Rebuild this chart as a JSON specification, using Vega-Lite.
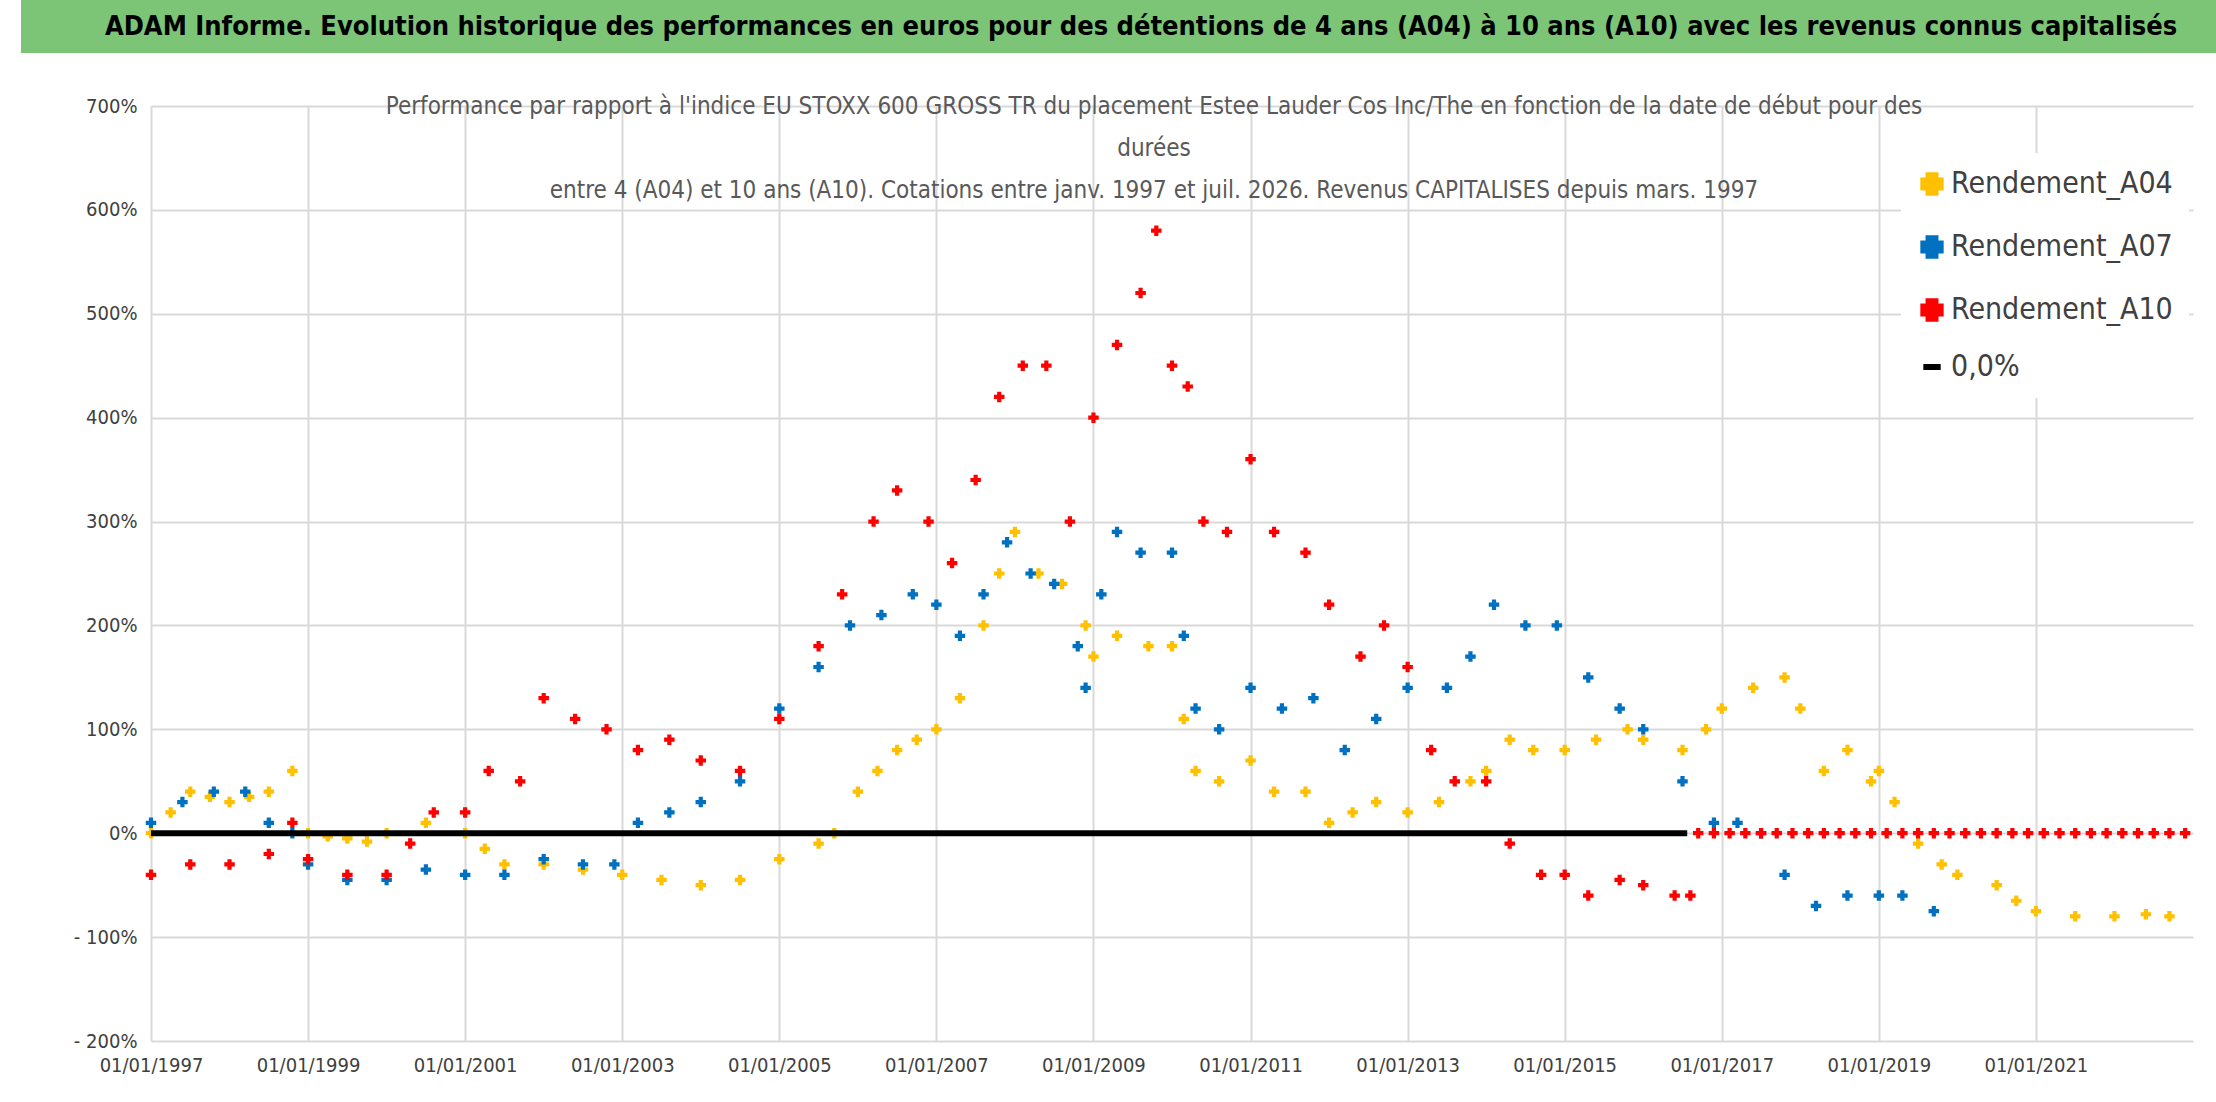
{
  "$schema": "https://vega.github.io/schema/vega-lite/v6.json",
  "background": "white",
  "padding": {"left": 21, "top": 0, "right": 0, "bottom": 0},
  "spacing": 42,
  "config": {"view": {"stroke": null}, "font": "DejaVu Sans Condensed"},
  "datasets": {
    "pts": [
      {"s":"Rendement_A04","x":1997.0,"y":0},{"s":"Rendement_A04","x":1997.25,"y":20},{"s":"Rendement_A04","x":1997.5,"y":40},{"s":"Rendement_A04","x":1997.75,"y":35},{"s":"Rendement_A04","x":1998.0,"y":30},{"s":"Rendement_A04","x":1998.25,"y":35},{"s":"Rendement_A04","x":1998.5,"y":40},{"s":"Rendement_A04","x":1998.8,"y":60},{"s":"Rendement_A04","x":1999.0,"y":0},{"s":"Rendement_A04","x":1999.25,"y":-3},{"s":"Rendement_A04","x":1999.5,"y":-5},{"s":"Rendement_A04","x":1999.75,"y":-8},{"s":"Rendement_A04","x":2000.0,"y":0},{"s":"Rendement_A04","x":2000.5,"y":10},{"s":"Rendement_A04","x":2001.0,"y":0},{"s":"Rendement_A04","x":2001.25,"y":-15},{"s":"Rendement_A04","x":2001.5,"y":-30},{"s":"Rendement_A04","x":2002.0,"y":-30},{"s":"Rendement_A04","x":2002.5,"y":-35},{"s":"Rendement_A04","x":2003.0,"y":-40},{"s":"Rendement_A04","x":2003.5,"y":-45},{"s":"Rendement_A04","x":2004.0,"y":-50},{"s":"Rendement_A04","x":2004.5,"y":-45},{"s":"Rendement_A04","x":2005.0,"y":-25},{"s":"Rendement_A04","x":2005.5,"y":-10},{"s":"Rendement_A04","x":2005.7,"y":0},{"s":"Rendement_A04","x":2006.0,"y":40},{"s":"Rendement_A04","x":2006.25,"y":60},{"s":"Rendement_A04","x":2006.5,"y":80},{"s":"Rendement_A04","x":2006.75,"y":90},{"s":"Rendement_A04","x":2007.0,"y":100},{"s":"Rendement_A04","x":2007.3,"y":130},{"s":"Rendement_A04","x":2007.6,"y":200},{"s":"Rendement_A04","x":2007.8,"y":250},{"s":"Rendement_A04","x":2008.0,"y":290},{"s":"Rendement_A04","x":2008.3,"y":250},{"s":"Rendement_A04","x":2008.6,"y":240},{"s":"Rendement_A04","x":2008.9,"y":200},{"s":"Rendement_A04","x":2009.0,"y":170},{"s":"Rendement_A04","x":2009.3,"y":190},{"s":"Rendement_A04","x":2009.7,"y":180},{"s":"Rendement_A04","x":2010.0,"y":180},{"s":"Rendement_A04","x":2010.15,"y":110},{"s":"Rendement_A04","x":2010.3,"y":60},{"s":"Rendement_A04","x":2010.6,"y":50},{"s":"Rendement_A04","x":2011.0,"y":70},{"s":"Rendement_A04","x":2011.3,"y":40},{"s":"Rendement_A04","x":2011.7,"y":40},{"s":"Rendement_A04","x":2012.0,"y":10},{"s":"Rendement_A04","x":2012.3,"y":20},{"s":"Rendement_A04","x":2012.6,"y":30},{"s":"Rendement_A04","x":2013.0,"y":20},{"s":"Rendement_A04","x":2013.4,"y":30},{"s":"Rendement_A04","x":2013.8,"y":50},{"s":"Rendement_A04","x":2014.0,"y":60},{"s":"Rendement_A04","x":2014.3,"y":90},{"s":"Rendement_A04","x":2014.6,"y":80},{"s":"Rendement_A04","x":2015.0,"y":80},{"s":"Rendement_A04","x":2015.4,"y":90},{"s":"Rendement_A04","x":2015.8,"y":100},{"s":"Rendement_A04","x":2016.0,"y":90},{"s":"Rendement_A04","x":2016.5,"y":80},{"s":"Rendement_A04","x":2016.8,"y":100},{"s":"Rendement_A04","x":2017.0,"y":120},{"s":"Rendement_A04","x":2017.4,"y":140},{"s":"Rendement_A04","x":2017.8,"y":150},{"s":"Rendement_A04","x":2018.0,"y":120},{"s":"Rendement_A04","x":2018.3,"y":60},{"s":"Rendement_A04","x":2018.6,"y":80},{"s":"Rendement_A04","x":2018.9,"y":50},{"s":"Rendement_A04","x":2019.0,"y":60},{"s":"Rendement_A04","x":2019.2,"y":30},{"s":"Rendement_A04","x":2019.5,"y":-10},{"s":"Rendement_A04","x":2019.8,"y":-30},{"s":"Rendement_A04","x":2020.0,"y":-40},{"s":"Rendement_A04","x":2020.5,"y":-50},{"s":"Rendement_A04","x":2020.75,"y":-65},{"s":"Rendement_A04","x":2021.0,"y":-75},{"s":"Rendement_A04","x":2021.5,"y":-80},{"s":"Rendement_A04","x":2022.0,"y":-80},{"s":"Rendement_A04","x":2022.4,"y":-78},{"s":"Rendement_A04","x":2022.7,"y":-80},
      {"s":"Rendement_A07","x":1997.0,"y":10},{"s":"Rendement_A07","x":1997.4,"y":30},{"s":"Rendement_A07","x":1997.8,"y":40},{"s":"Rendement_A07","x":1998.2,"y":40},{"s":"Rendement_A07","x":1998.5,"y":10},{"s":"Rendement_A07","x":1998.8,"y":0},{"s":"Rendement_A07","x":1999.0,"y":-30},{"s":"Rendement_A07","x":1999.5,"y":-45},{"s":"Rendement_A07","x":2000.0,"y":-45},{"s":"Rendement_A07","x":2000.5,"y":-35},{"s":"Rendement_A07","x":2001.0,"y":-40},{"s":"Rendement_A07","x":2001.5,"y":-40},{"s":"Rendement_A07","x":2002.0,"y":-25},{"s":"Rendement_A07","x":2002.5,"y":-30},{"s":"Rendement_A07","x":2002.9,"y":-30},{"s":"Rendement_A07","x":2003.2,"y":10},{"s":"Rendement_A07","x":2003.6,"y":20},{"s":"Rendement_A07","x":2004.0,"y":30},{"s":"Rendement_A07","x":2004.5,"y":50},{"s":"Rendement_A07","x":2005.0,"y":120},{"s":"Rendement_A07","x":2005.5,"y":160},{"s":"Rendement_A07","x":2005.9,"y":200},{"s":"Rendement_A07","x":2006.3,"y":210},{"s":"Rendement_A07","x":2006.7,"y":230},{"s":"Rendement_A07","x":2007.0,"y":220},{"s":"Rendement_A07","x":2007.3,"y":190},{"s":"Rendement_A07","x":2007.6,"y":230},{"s":"Rendement_A07","x":2007.9,"y":280},{"s":"Rendement_A07","x":2008.2,"y":250},{"s":"Rendement_A07","x":2008.5,"y":240},{"s":"Rendement_A07","x":2008.8,"y":180},{"s":"Rendement_A07","x":2008.9,"y":140},{"s":"Rendement_A07","x":2009.1,"y":230},{"s":"Rendement_A07","x":2009.3,"y":290},{"s":"Rendement_A07","x":2009.6,"y":270},{"s":"Rendement_A07","x":2010.0,"y":270},{"s":"Rendement_A07","x":2010.15,"y":190},{"s":"Rendement_A07","x":2010.3,"y":120},{"s":"Rendement_A07","x":2010.6,"y":100},{"s":"Rendement_A07","x":2011.0,"y":140},{"s":"Rendement_A07","x":2011.4,"y":120},{"s":"Rendement_A07","x":2011.8,"y":130},{"s":"Rendement_A07","x":2012.2,"y":80},{"s":"Rendement_A07","x":2012.6,"y":110},{"s":"Rendement_A07","x":2013.0,"y":140},{"s":"Rendement_A07","x":2013.5,"y":140},{"s":"Rendement_A07","x":2013.8,"y":170},{"s":"Rendement_A07","x":2014.1,"y":220},{"s":"Rendement_A07","x":2014.5,"y":200},{"s":"Rendement_A07","x":2014.9,"y":200},{"s":"Rendement_A07","x":2015.3,"y":150},{"s":"Rendement_A07","x":2015.7,"y":120},{"s":"Rendement_A07","x":2016.0,"y":100},{"s":"Rendement_A07","x":2016.5,"y":50},{"s":"Rendement_A07","x":2016.9,"y":10},{"s":"Rendement_A07","x":2017.2,"y":10},{"s":"Rendement_A07","x":2017.5,"y":0},{"s":"Rendement_A07","x":2017.8,"y":-40},{"s":"Rendement_A07","x":2018.2,"y":-70},{"s":"Rendement_A07","x":2018.6,"y":-60},{"s":"Rendement_A07","x":2019.0,"y":-60},{"s":"Rendement_A07","x":2019.3,"y":-60},{"s":"Rendement_A07","x":2019.7,"y":-75},
      {"s":"Rendement_A10","x":1997.0,"y":-40},{"s":"Rendement_A10","x":1997.5,"y":-30},{"s":"Rendement_A10","x":1998.0,"y":-30},{"s":"Rendement_A10","x":1998.5,"y":-20},{"s":"Rendement_A10","x":1998.8,"y":10},{"s":"Rendement_A10","x":1999.0,"y":-25},{"s":"Rendement_A10","x":1999.5,"y":-40},{"s":"Rendement_A10","x":2000.0,"y":-40},{"s":"Rendement_A10","x":2000.3,"y":-10},{"s":"Rendement_A10","x":2000.6,"y":20},{"s":"Rendement_A10","x":2001.0,"y":20},{"s":"Rendement_A10","x":2001.3,"y":60},{"s":"Rendement_A10","x":2001.7,"y":50},{"s":"Rendement_A10","x":2002.0,"y":130},{"s":"Rendement_A10","x":2002.4,"y":110},{"s":"Rendement_A10","x":2002.8,"y":100},{"s":"Rendement_A10","x":2003.2,"y":80},{"s":"Rendement_A10","x":2003.6,"y":90},{"s":"Rendement_A10","x":2004.0,"y":70},{"s":"Rendement_A10","x":2004.5,"y":60},{"s":"Rendement_A10","x":2005.0,"y":110},{"s":"Rendement_A10","x":2005.5,"y":180},{"s":"Rendement_A10","x":2005.8,"y":230},{"s":"Rendement_A10","x":2006.2,"y":300},{"s":"Rendement_A10","x":2006.5,"y":330},{"s":"Rendement_A10","x":2006.9,"y":300},{"s":"Rendement_A10","x":2007.2,"y":260},{"s":"Rendement_A10","x":2007.5,"y":340},{"s":"Rendement_A10","x":2007.8,"y":420},{"s":"Rendement_A10","x":2008.1,"y":450},{"s":"Rendement_A10","x":2008.4,"y":450},{"s":"Rendement_A10","x":2008.7,"y":300},{"s":"Rendement_A10","x":2009.0,"y":400},{"s":"Rendement_A10","x":2009.3,"y":470},{"s":"Rendement_A10","x":2009.6,"y":520},{"s":"Rendement_A10","x":2009.8,"y":580},{"s":"Rendement_A10","x":2010.0,"y":450},{"s":"Rendement_A10","x":2010.2,"y":430},{"s":"Rendement_A10","x":2010.4,"y":300},{"s":"Rendement_A10","x":2010.7,"y":290},{"s":"Rendement_A10","x":2011.0,"y":360},{"s":"Rendement_A10","x":2011.3,"y":290},{"s":"Rendement_A10","x":2011.7,"y":270},{"s":"Rendement_A10","x":2012.0,"y":220},{"s":"Rendement_A10","x":2012.4,"y":170},{"s":"Rendement_A10","x":2012.7,"y":200},{"s":"Rendement_A10","x":2013.0,"y":160},{"s":"Rendement_A10","x":2013.3,"y":80},{"s":"Rendement_A10","x":2013.6,"y":50},{"s":"Rendement_A10","x":2014.0,"y":50},{"s":"Rendement_A10","x":2014.3,"y":-10},{"s":"Rendement_A10","x":2014.7,"y":-40},{"s":"Rendement_A10","x":2015.0,"y":-40},{"s":"Rendement_A10","x":2015.3,"y":-60},{"s":"Rendement_A10","x":2015.7,"y":-45},{"s":"Rendement_A10","x":2016.0,"y":-50},{"s":"Rendement_A10","x":2016.4,"y":-60},{"s":"Rendement_A10","x":2016.6,"y":-60},
      {"s":"Rendement_A10","x":2016.7,"y":0},{"s":"Rendement_A10","x":2016.9,"y":0},{"s":"Rendement_A10","x":2017.1,"y":0},{"s":"Rendement_A10","x":2017.3,"y":0},{"s":"Rendement_A10","x":2017.5,"y":0},{"s":"Rendement_A10","x":2017.7,"y":0},{"s":"Rendement_A10","x":2017.9,"y":0},{"s":"Rendement_A10","x":2018.1,"y":0},{"s":"Rendement_A10","x":2018.3,"y":0},{"s":"Rendement_A10","x":2018.5,"y":0},{"s":"Rendement_A10","x":2018.7,"y":0},{"s":"Rendement_A10","x":2018.9,"y":0},{"s":"Rendement_A10","x":2019.1,"y":0},{"s":"Rendement_A10","x":2019.3,"y":0},{"s":"Rendement_A10","x":2019.5,"y":0},{"s":"Rendement_A10","x":2019.7,"y":0},{"s":"Rendement_A10","x":2019.9,"y":0},{"s":"Rendement_A10","x":2020.1,"y":0},{"s":"Rendement_A10","x":2020.3,"y":0},{"s":"Rendement_A10","x":2020.5,"y":0},{"s":"Rendement_A10","x":2020.7,"y":0},{"s":"Rendement_A10","x":2020.9,"y":0},{"s":"Rendement_A10","x":2021.1,"y":0},{"s":"Rendement_A10","x":2021.3,"y":0},{"s":"Rendement_A10","x":2021.5,"y":0},{"s":"Rendement_A10","x":2021.7,"y":0},{"s":"Rendement_A10","x":2021.9,"y":0},{"s":"Rendement_A10","x":2022.1,"y":0},{"s":"Rendement_A10","x":2022.3,"y":0},{"s":"Rendement_A10","x":2022.5,"y":0},{"s":"Rendement_A10","x":2022.7,"y":0},{"s":"Rendement_A10","x":2022.9,"y":0}
    ],
    "zero": [{"s":"0,0%","x":1997.0,"y":0},{"s":"0,0%","x":2016.56,"y":0}]
  },
  "vconcat": [
    {
      "width": 2117,
      "height": 53,
      "data": {"values": [{"t": "ADAM Informe. Evolution historique des performances en euros pour des détentions de 4 ans (A04) à 10 ans (A10) avec les revenus connus capitalisés"}]},
      "layer": [
        {"mark": {"type": "rect", "color": "#7CC576"}, "encoding": {"x": {"value": -130}, "x2": {"value": 2117}, "y": {"value": 0}, "y2": {"value": 53}}},
        {"mark": {"type": "text", "fontSize": 27, "fontWeight": "bold", "font": "DejaVu Sans Condensed", "color": "black"},
         "encoding": {"text": {"field": "t"}, "x": {"value": 990}, "y": {"value": 27}}}
      ]
    },
    {
      "width": 2042,
      "height": 935,
      "title": {
        "text": ["Performance par rapport à l'indice EU STOXX 600 GROSS TR  du placement Estee Lauder Cos Inc/The en fonction de la date de début pour des", "durées", "entre 4 (A04) et 10 ans (A10). Cotations entre janv. 1997 et juil. 2026. Revenus CAPITALISES depuis mars. 1997"],
        "fontSize": 24, "font": "DejaVu Sans Condensed", "fontWeight": "normal", "color": "#595959", "lineHeight": 42, "anchor": "middle", "align": "center", "dx": -18, "dy": 88, "offset": -19
      },
      "encoding": {
        "x": {
          "field": "x", "type": "quantitative",
          "scale": {"domain": [1997, 2023], "nice": false, "zero": false},
          "axis": {"title": null, "values": [1997,1999,2001,2003,2005,2007,2009,2011,2013,2015,2017,2019,2021], "labelExpr": "'01/01/' + datum.value", "labelOverlap": false, "labelFlush": false, "labelFontSize": 20, "labelColor": "#404040", "grid": true, "gridColor": "#d9d9d9", "gridWidth": 2, "domain": false, "ticks": false, "labelPadding": 14}
        },
        "y": {
          "field": "y", "type": "quantitative",
          "scale": {"domain": [-200, 700], "nice": false, "zero": false},
          "axis": {"title": null, "values": [-200,-100,0,100,200,300,400,500,600,700], "labelExpr": "datum.value < 0 ? '- ' + (-datum.value) + '%' : datum.value + '%'", "labelFontSize": 20, "labelColor": "#404040", "grid": true, "gridColor": "#d9d9d9", "gridWidth": 2, "domain": false, "ticks": false, "labelPadding": 14}
        },
        "color": {
          "field": "s", "type": "nominal",
          "scale": {"domain": ["Rendement_A04","Rendement_A07","Rendement_A10","0,0%"], "range": ["#FFC000","#0070C0","#FF0000","#000000"]},
          "legend": {"title": null, "orient": "none", "legendX": 1750, "legendY": 153, "labelFontSize": 30, "labelLimit": 400, "labelColor": "#404040", "symbolSize": 300, "rowPadding": 21, "fillColor": "white", "padding": 16, "symbolStrokeWidth": 6}
        },
        "shape": {
          "field": "s", "type": "nominal",
          "scale": {"domain": ["Rendement_A04","Rendement_A07","Rendement_A10","0,0%"], "range": ["cross","cross","cross","stroke"]},
          "legend": null
        }
      },
      "layer": [
        {"data": {"name": "pts"}, "mark": {"type": "point", "filled": true, "size": 110, "opacity": 1}},
        {"data": {"name": "zero"}, "mark": {"type": "line", "strokeWidth": 6}}
      ]
    }
  ]
}
